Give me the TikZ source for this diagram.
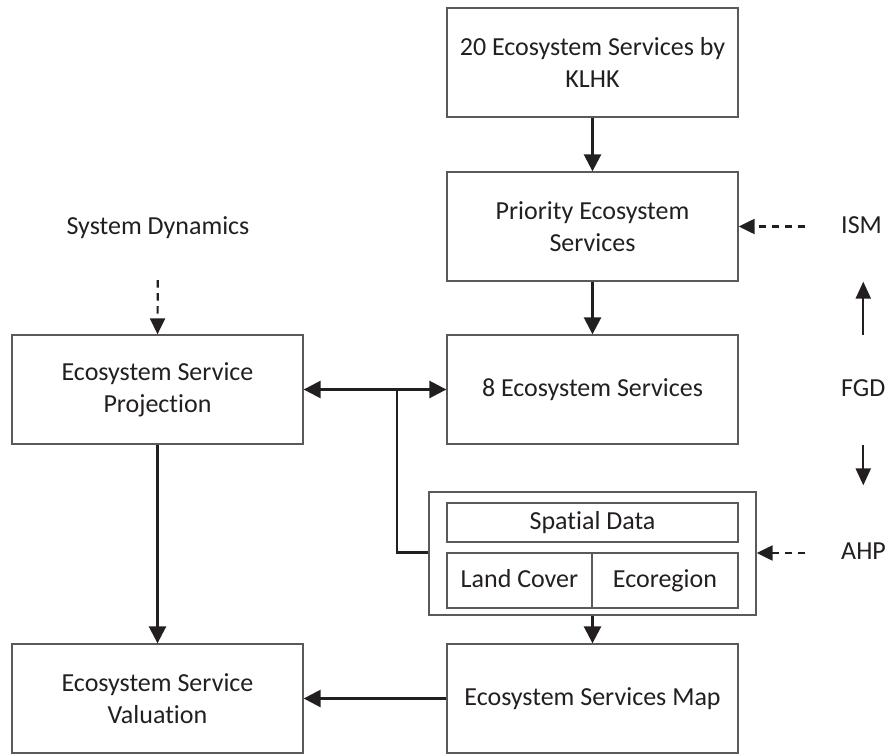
\documentclass[tikz,border=0pt]{standalone}
\usepackage{fontspec}
\setmainfont{Carlito}[Ligatures=NoCommon]
\usetikzlibrary{arrows.meta}
\definecolor{boxgray}{HTML}{5A5A5A}
\definecolor{ink}{HTML}{231F20}
\begin{document}
\begin{tikzpicture}[x=1pt,y=-1pt,
  txt/.style={font=\fontsize{26}{32}\selectfont, text=ink},
  box/.style={txt, draw=boxgray, line width=1.3pt, minimum width=291pt, minimum height=109pt, inner sep=0pt, align=center},
  subbox/.style={txt, draw=boxgray, line width=1.3pt, inner sep=0pt, text height=18pt, text depth=5pt},
  lbl/.style={txt, inner sep=0pt, text height=18pt, text depth=5pt},
  conn/.style={draw=ink, line width=2.6pt},
  arr/.style={conn, -{Triangle[length=17pt,width=17pt]}},
  darr/.style={draw=ink, line width=2.2pt, dash pattern=on 7.5pt off 5.5pt, -{Triangle[length=16pt,width=15pt]}},
]
\useasboundingbox (0,0) rectangle (885,754);

\node[box] (klhk) at (592.5,62.5) {20 Ecosystem Services by\\KLHK};
\node[box] (prio) at (592.5,226.5) {Priority Ecosystem\\Services};
\node[box] (es8) at (592.5,389.5) {8 Ecosystem Services};
\node[box] (proj) at (157.5,389.5) {Ecosystem Service\\Projection};
\node[box] (val) at (157.5,698.5) {Ecosystem Service\\Valuation};
\node[box] (map) at (592.5,698.5) {Ecosystem Services Map};

\node[subbox, minimum width=327pt, minimum height=123pt] (spatial) at (592.5,553.5) {};
\node[subbox, minimum width=291pt, minimum height=39pt] (sdata) at (592.5,522.5) {Spatial Data};
\node[subbox, minimum width=145pt, minimum height=55pt] (lc) at (519.5,580.5) {Land Cover};
\node[subbox, minimum width=146pt, minimum height=55pt] (eco) at (665,580.5) {Ecoregion};

\node[lbl] (sd) at (158,228) {System Dynamics};
\node[lbl, anchor=west] (ism) at (841,226.5) {ISM};
\node[lbl, anchor=west] (fgd) at (841,389.5) {FGD};
\node[lbl, anchor=west] (ahp) at (841,553) {AHP};

\coordinate (bj) at (397,389.5);

\draw[arr] (klhk) -- (prio);
\draw[arr] (prio) -- (es8);
\draw[conn, {Triangle[length=17pt,width=17pt]}-{Triangle[length=17pt,width=17pt]}] (proj.east) -- (es8.west);
\draw[conn] (bj) |- (lc.north -| spatial.west);
\draw[arr] (proj) -- (val);
\draw[arr] (map) -- (val);
\draw[arr] (spatial) -- (map);

\draw[darr, shorten <=40.5pt] (sd.south) -- (proj.north);
\draw[darr, shorten <=36pt] (ism.west) -- (ism.west -| prio.east);
\draw[darr, shorten <=36pt] (ahp.west) -- (ahp.west -| spatial.east);
\draw[draw=ink, line width=2.2pt, -{Triangle[length=17pt,width=15pt]}, shorten <=43pt] (fgd.north) -- (fgd.north |- prio.south);
\draw[draw=ink, line width=2.2pt, -{Triangle[length=17pt,width=15pt]}, shorten <=44pt, shorten >=6pt] (fgd.south) -- (fgd.south |- spatial.north);
\end{tikzpicture}
\end{document}
